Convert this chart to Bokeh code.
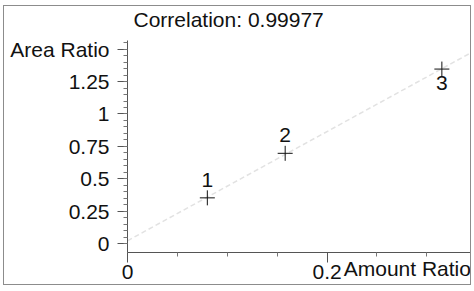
import numpy as np
from bokeh.plotting import figure
from bokeh.models import Range1d, FixedTicker, LabelSet, Label, ColumnDataSource
from bokeh.core.properties import value
from bokeh.embed import file_html
from bokeh.resources import INLINE

# ---- data ----
point_ids = ["1", "2", "3"]
amount_ratio = [0.08, 0.158, 0.315]
area_ratio = [0.354, 0.697, 1.346]
correlation_text = "Correlation: 0.99977"
x_major_ticks = [0, 0.2]
x_minor_ticks = [0.05, 0.1, 0.15, 0.25, 0.3]
y_major_ticks = [0, 0.25, 0.5, 0.75, 1, 1.25, 1.5]
y_minor_ticks = [round(v * 0.05, 2) for v in range(0, 32)]
x_tick_labels = {0: "0", 0.2: "0.2"}
y_tick_labels = {0: "0", 0.25: "0.25", 0.5: "0.5", 0.75: "0.75", 1: "1", 1.25: "1.25"}
x_axis_title = "Amount Ratio"
y_axis_title = "Area Ratio"
label_side = ["above", "above", "below"]  # style: where the point number sits

FONT = "Liberation Sans"
FS = "21px"

x_end = 0.3447
y_start, y_end = -0.067, 1.828   # frame runs to the top; title sits inside it
y_axis_top = 1.566               # where the drawn y axis line stops

p = figure(width=468, height=280, x_range=Range1d(0, x_end), y_range=Range1d(y_start, y_end),
           output_backend="svg", toolbar_location=None,
           min_border_left=123, min_border_right=1, min_border_top=0, min_border_bottom=34)
p.title = None
p.margin = (5, 0, 0, 3)
p.styles = {"border": "1px solid #8c8c8c"}
p.outline_line_color = None
p.xgrid.visible = False
p.ygrid.visible = False
p.background_fill_color = "white"
p.border_fill_color = "white"

# axes
for ax in (p.xaxis[0], p.yaxis[0]):
    ax.major_label_text_font = FONT
    ax.major_label_text_font_size = FS
    ax.major_label_text_color = "#111111"
    ax.axis_line_color = "#555555"
    ax.major_tick_line_color = "#555555"
    ax.minor_tick_line_color = "#777777"
    ax.major_tick_out = 10
    ax.major_tick_in = 0
    ax.minor_tick_out = 4
    ax.minor_tick_in = 0

p.yaxis[0].bounds = (y_start, y_axis_top)
p.xaxis[0].ticker = FixedTicker(ticks=x_major_ticks, minor_ticks=x_minor_ticks)
p.yaxis[0].ticker = FixedTicker(ticks=y_major_ticks, minor_ticks=y_minor_ticks)
p.xaxis[0].major_label_standoff = 2
p.yaxis[0].major_label_standoff = 8
p.xaxis[0].major_label_overrides = x_tick_labels
p.yaxis[0].major_label_overrides = {**y_tick_labels, 1.5: y_axis_title}

# x axis title: at the end of the axis, on the same line as the tick labels
# (trailing no-break spaces shift the centred label so its text ends at the axis end)
p.xaxis[0].axis_label = x_axis_title + "\u00a0" * 22
p.xaxis[0].axis_label_text_font = FONT
p.xaxis[0].axis_label_text_font_size = FS
p.xaxis[0].axis_label_text_font_style = "normal"
p.xaxis[0].axis_label_text_color = "#111111"
p.xaxis[0].axis_label_align = "end"
p.xaxis[0].axis_label_standoff = -25

# title
p.add_layout(Label(x=0, y=y_end, x_offset=6, y_offset=-1, text=correlation_text,
                   text_align="left", text_baseline="top", text_font=FONT,
                   text_font_size=FS, text_color="#111111"))

# regression line (least squares from data)
slope, intercept = np.polyfit(amount_ratio, area_ratio, 1)
lx = [0, x_end]
ly = [intercept + slope * v for v in lx]
p.line(lx, ly, line_color="#e2e2e2", line_width=1.5, line_dash="5 3")

# points
src = ColumnDataSource(dict(x=amount_ratio, y=area_ratio, id=point_ids,
                            yo=[11 if s == "above" else -7 for s in label_side],
                            bl=["bottom" if s == "above" else "top" for s in label_side]))
p.scatter("x", "y", source=src, marker="cross", size=15, line_color="#111111", line_width=1)
labels = LabelSet(x="x", y="y", text="id", source=src, y_offset="yo", text_baseline="bl",
                  text_align="center", text_font=value(FONT), text_font_size=value(FS),
                  text_color="#111111")
p.add_layout(labels)

open("out.html", "w").write(file_html(p, INLINE))
